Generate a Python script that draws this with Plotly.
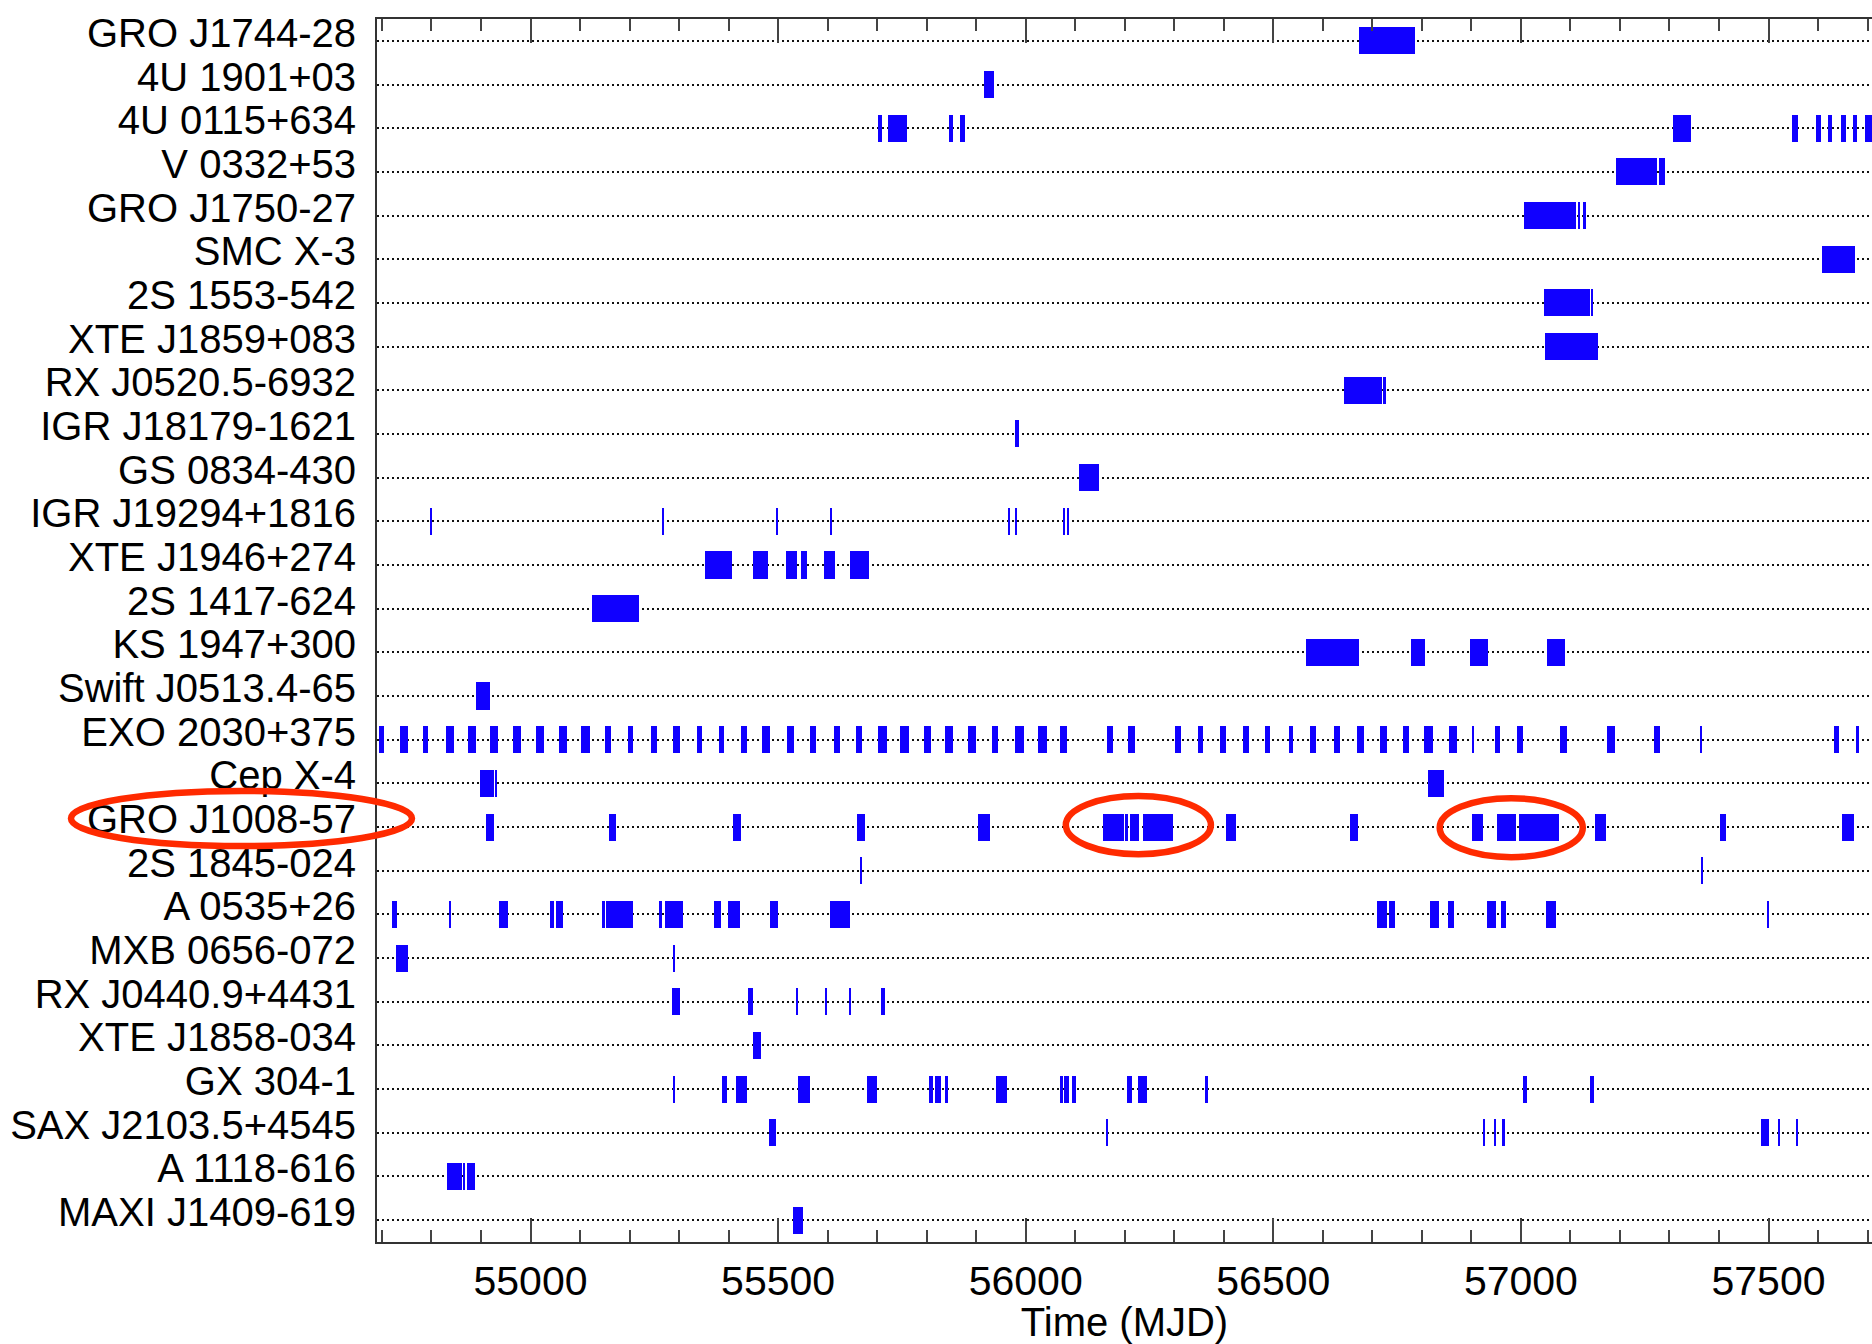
import plotly.graph_objects as go

# Source names, top to bottom
sources = [
    "GRO J1744-28", "4U 1901+03", "4U 0115+634", "V 0332+53", "GRO J1750-27",
    "SMC X-3", "2S 1553-542", "XTE J1859+083", "RX J0520.5-6932", "IGR J18179-1621",
    "GS 0834-430", "IGR J19294+1816", "XTE J1946+274", "2S 1417-624", "KS 1947+300",
    "Swift J0513.4-65", "EXO 2030+375", "Cep X-4", "GRO J1008-57", "2S 1845-024",
    "A 0535+26", "MXB 0656-072", "RX J0440.9+4431", "XTE J1858-034", "GX 304-1",
    "SAX J2103.5+4545", "A 1118-616", "MAXI J1409-619",
]

# Observation intervals per source, (start MJD, end MJD)
gro_j1744_28 = [(56674, 56787)]
u4_1901_03 = [(55915, 55936)]
u4_0115_634 = [(55701, 55709), (55722, 55761), (55846, 55853), (55868, 55878),
               (57307, 57343), (57547, 57559), (57595, 57606), (57621, 57628),
               (57646, 57656), (57670, 57679), (57694, 57715)]
v_0332_53 = [(57193, 57274), (57278, 57290)]
gro_j1750_27 = [(57006, 57112), (57115, 57120), (57125, 57131)]
smc_x3 = [(57608, 57674)]
s2_1553_542 = [(57046, 57139), (57142, 57145)]
xte_j1859_083 = [(57048, 57156)]
rx_j0520_6932 = [(56643, 56720), (56722, 56728)]
igr_j18179_1621 = [(55978, 55987)]
gs_0834_430 = [(56107, 56147)]
igr_j19294_1816 = [(54799, 54801), (55266, 55268), (55497, 55499), (55605, 55607),
                   (55965, 55967), (55980, 55982), (56077, 56080), (56085, 56088)]
xte_j1946_274 = [(55352, 55406), (55449, 55479), (55515, 55539), (55546, 55558),
                 (55593, 55614), (55645, 55683)]
s2_1417_624 = [(55124, 55220)]
ks_1947_300 = [(56567, 56674), (56779, 56807), (56898, 56934), (57053, 57090)]
swift_j0513 = [(54890, 54919)]
exo_2030_375 = [(54694, 54705), (54737, 54752), (54782, 54793), (54830, 54846),
                (54874, 54890), (54919, 54934), (54965, 54981), (55011, 55027),
                (55058, 55074), (55102, 55120), (55151, 55162), (55197, 55207),
                (55244, 55255), (55288, 55301), (55337, 55347), (55381, 55391),
                (55425, 55438), (55468, 55483), (55518, 55533), (55565, 55576),
                (55612, 55625), (55657, 55670), (55702, 55719), (55747, 55764),
                (55795, 55808), (55837, 55854), (55884, 55899), (55932, 55945),
                (55979, 55997), (56025, 56042), (56069, 56084), (56164, 56176),
                (56207, 56220), (56302, 56313), (56347, 56358), (56393, 56405),
                (56439, 56450), (56483, 56493), (56532, 56539), (56575, 56587),
                (56623, 56635), (56668, 56684), (56716, 56729), (56761, 56773),
                (56805, 56823), (56854, 56870), (56903, 56906), (56947, 56957),
                (56993, 57005), (57078, 57094), (57174, 57191), (57268, 57281),
                (57362, 57365), (57633, 57642), (57677, 57683)]
cep_x4 = [(54897, 54927), (54929, 54933), (56813, 56844)]
gro_j1008_57 = [(54911, 54927), (55158, 55173), (55408, 55426), (55659, 55676),
                (55904, 55927), (56157, 56199), (56202, 56206), (56211, 56229),
                (56236, 56298), (56405, 56424), (56654, 56671), (56902, 56924),
                (56952, 56991), (56996, 57076), (57149, 57172), (57402, 57415),
                (57648, 57672)]
s2_1845_024 = [(55667, 55670), (57365, 57368)]
a_0535_26 = [(54721, 54730), (54835, 54840), (54937, 54955), (55040, 55048),
             (55051, 55066), (55144, 55150), (55153, 55206), (55260, 55265),
             (55272, 55308), (55371, 55385), (55398, 55424), (55483, 55500),
             (55604, 55645), (56710, 56729), (56734, 56746), (56817, 56835),
             (56853, 56865), (56932, 56950), (56960, 56969), (57051, 57070),
             (57498, 57502)]
mxb_0656_072 = [(54729, 54752), (55289, 55291)]
rx_j0440_4431 = [(55285, 55302), (55440, 55450), (55538, 55540), (55594, 55599),
                 (55644, 55646), (55707, 55716)]
xte_j1858_034 = [(55449, 55466)]
gx_304_1 = [(55287, 55292), (55388, 55390), (55392, 55396), (55415, 55437),
            (55540, 55565), (55679, 55699), (55805, 55813), (55816, 55828),
            (55837, 55843), (55940, 55963), (56071, 56075), (56077, 56088),
            (56093, 56102), (56205, 56214), (56227, 56245), (56364, 56368),
            (57004, 57012), (57140, 57147)]
sax_j2103_4545 = [(55482, 55496), (56164, 56167), (56924, 56926), (56947, 56949),
                  (56963, 56967), (57484, 57500), (57521, 57524), (57557, 57560)]
a_1118_616 = [(54832, 54861), (54863, 54868), (54872, 54888)]
maxi_j1409_619 = [(55531, 55551)]

intervals = [
    gro_j1744_28, u4_1901_03, u4_0115_634, v_0332_53, gro_j1750_27,
    smc_x3, s2_1553_542, xte_j1859_083, rx_j0520_6932, igr_j18179_1621,
    gs_0834_430, igr_j19294_1816, xte_j1946_274, s2_1417_624, ks_1947_300,
    swift_j0513, exo_2030_375, cep_x4, gro_j1008_57, s2_1845_024,
    a_0535_26, mxb_0656_072, rx_j0440_4431, xte_j1858_034, gx_304_1,
    sax_j2103_4545, a_1118_616, maxi_j1409_619,
]

X_RANGE = [54690, 57709]
FONT = "Liberation Sans, Arial, Helvetica, sans-serif"
BAR_COLOR = "#1000ff"
RING_COLOR = "#ff2a00"

fig = go.Figure()
for name, spans in zip(sources, intervals):
    fig.add_trace(go.Bar(
        orientation="h",
        y=[name] * len(spans),
        base=[s for s, e in spans],
        x=[e - s for s, e in spans],
        width=0.62,
        marker=dict(color=BAR_COLOR, line=dict(width=0)),
        showlegend=False,
        hoverinfo="skip",
    ))

# Highlight rings around GRO J1008-57 (label and two giant outbursts)
fig.add_shape(type="circle", xref="paper", yref="paper",
              x0=-0.2047, x1=0.0234, y0=0.3238, y1=0.3688,
              line=dict(color=RING_COLOR, width=6.5), layer="above")
fig.add_shape(type="circle", xref="x", yref="y",
              x0=56081, x1=56374, y0=17.29, y1=18.62,
              line=dict(color=RING_COLOR, width=6.5), layer="above")
fig.add_shape(type="circle", xref="x", yref="y",
              x0=56836, x1=57125, y0=17.34, y1=18.69,
              line=dict(color=RING_COLOR, width=6.5), layer="above")

fig.update_layout(
    width=1872, height=1344,
    margin=dict(l=377, r=0, t=19, b=102),
    paper_bgcolor="white", plot_bgcolor="white",
    barmode="overlay", bargap=0,
    font=dict(family=FONT, size=40, color="black"),
    xaxis=dict(
        range=X_RANGE,
        tick0=55000, dtick=500, tickformat="d",
        ticks="inside", ticklen=24, tickwidth=1.5, tickcolor="#444",
        minor=dict(dtick=100, ticks="inside", ticklen=12, tickwidth=1.5,
                   tickcolor="#444", showgrid=False),
        showline=True, linecolor="#333", linewidth=2, mirror="allticks",
        showgrid=False, zeroline=False,
        tickfont=dict(size=41), ticklabelstandoff=2,
        title=dict(text="Time (MJD)", font=dict(size=40), standoff=10),
    ),
    yaxis=dict(
        type="category", categoryorder="array", categoryarray=sources,
        tickmode="linear", tick0=0, dtick=1,
        range=[27.5, -0.5],
        showgrid=True, gridcolor="#111", gridwidth=1.5, griddash="1.5px,3.5px",
        showline=True, linecolor="#333", linewidth=2, mirror=False,
        ticks="", zeroline=False,
        tickfont=dict(size=40), ticklabelstandoff=11, ticklabelshift=8,
    ),
)

fig.write_html("out.html")
